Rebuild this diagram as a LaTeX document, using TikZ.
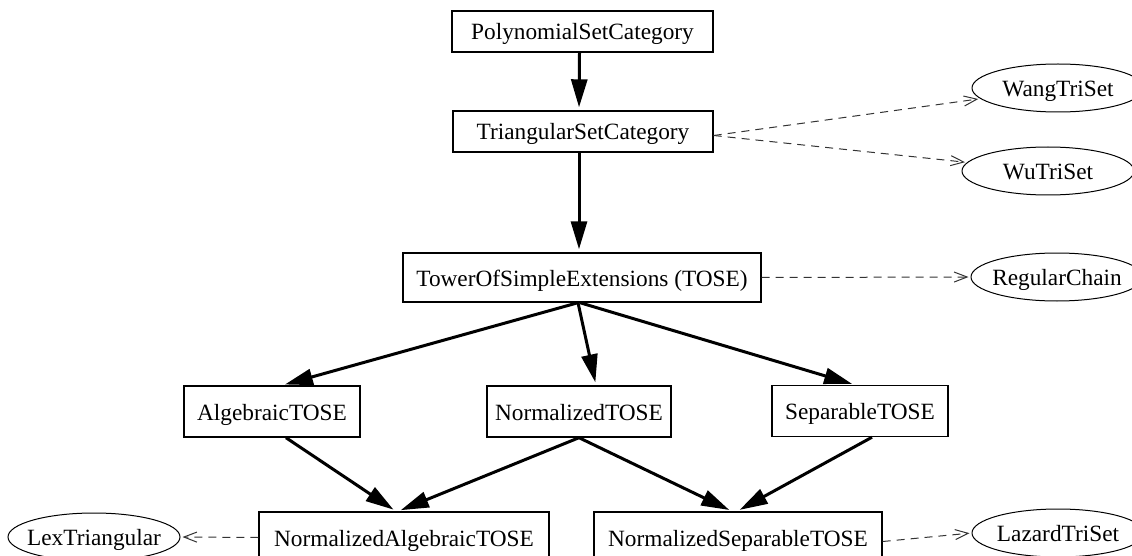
\documentclass[tikz,border=0pt]{standalone}
\usepackage{fontspec}
\setmainfont{Liberation Serif}
\usetikzlibrary{shapes.geometric,arrows.meta}
\newcommand\etxt[1]{\makebox[0pt]{#1}}
\begin{document}
\begin{tikzpicture}[x=1pt,y=-1pt,
  every node/.style={font=\fontsize{23.3}{28}\selectfont, inner sep=0pt, text height=19pt, text depth=2pt},
  box/.style={draw, line width=1.4pt, rectangle},
  ell/.style={draw, line width=1pt, ellipse, minimum width=172pt, minimum height=48pt},
  strong/.style={line width=3pt, -{Triangle[length=28pt,width=16pt]}, shorten >=3pt},
  weak/.style={line width=1pt, black!80, dash pattern=on 8pt off 6pt, -{Straight Barb[length=13pt,width=10pt,line width=1pt]}, shorten >=2pt}]
\useasboundingbox (0,0) rectangle (1132,556);
% boxes
\node[box, minimum width=261pt, minimum height=41pt] (poly) at (582.5,31.5) {PolynomialSetCategory};
\node[box, minimum width=260pt, minimum height=41pt] (tri) at (583,131.5) {TriangularSetCategory};
\node[box, minimum width=358pt, minimum height=49pt] (tower) at (582,277.5) {TowerOfSimpleExtensions (TOSE)};
\node[box, minimum width=176pt, minimum height=51pt] (alg) at (272,411.5) {AlgebraicTOSE};
\node[box, minimum width=184pt, minimum height=51pt] (ntose) at (579,411.5) {NormalizedTOSE};
\node[box, minimum width=176pt, minimum height=51pt] (sep) at (860,411) {SeparableTOSE};
\node[box, minimum width=290pt, minimum height=51pt] (nalg) at (404,537.5) {NormalizedAlgebraicTOSE};
\node[box, minimum width=288pt, minimum height=51pt] (nsep) at (738,537.5) {NormalizedSeparableTOSE};
% ellipses
\node[ell] (wang) at (1058,88) {\etxt{WangTriSet}};
\node[ell] (wu) at (1048,171) {\etxt{WuTriSet}};
\node[ell] (reg) at (1057,277) {\etxt{RegularChain}};
\node[ell] (lex) at (94,537) {\etxt{LexTriangular}};
\node[ell] (laz) at (1058,533) {\etxt{LazardTriSet}};
% strong edges
\draw[strong] ([xshift=-3pt]poly.south) -- ([xshift=-4pt]tri.north);
\draw[strong] ([xshift=-4pt]tri.south) -- ([xshift=-3pt]tower.north);
\draw[strong] ([xshift=-4pt]tower.south) -- ([xshift=10pt]alg.north);
\draw[strong] ([xshift=-4pt]tower.south) -- ([xshift=17pt]ntose.north);
\draw[strong] ([xshift=-2pt]tower.south) -- ([xshift=-5pt]sep.north);
\draw[strong] ([xshift=14pt]alg.south) -- ([xshift=-8pt]nalg.north);
\draw[strong] (ntose.south) -- ([xshift=-6pt]nalg.north);
\draw[strong] (ntose.south) -- ([xshift=-6pt]nsep.north);
\draw[strong] ([xshift=12pt]sep.south) -- ([xshift=-1pt]nsep.north);
% weak edges
\draw[weak] ([yshift=-4pt]tri.east) -- (wang);
\draw[weak] ([yshift=-4pt]tri.east) -- (wu);
\draw[weak] (tower.east) -- (reg.west);
\draw[weak] (nalg.west) -- (lex.east);
\draw[weak] ([yshift=-4pt]nsep.east) -- (laz.west);
\end{tikzpicture}
\end{document}
